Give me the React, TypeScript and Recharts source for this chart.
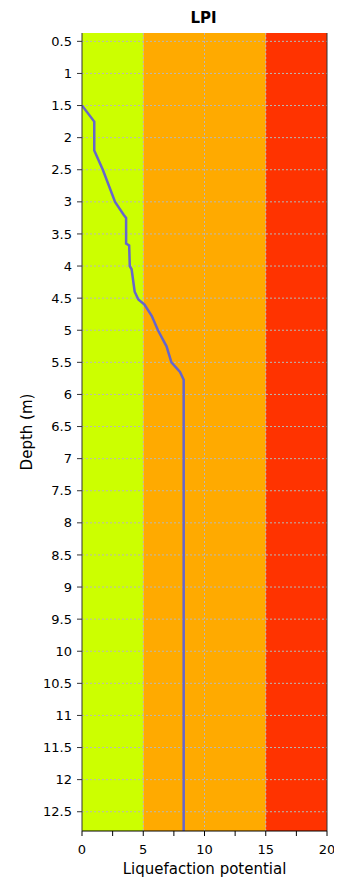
import React from "react";
import {
  LineChart,
  Line,
  XAxis,
  YAxis,
  ReferenceArea,
  ReferenceLine,
} from "recharts";

const depths = [1.5, 1.75, 2.2, 2.5, 3.0, 3.2, 3.25, 3.65, 3.68, 4.0, 4.05, 4.4, 4.52, 4.6, 4.78, 5.0, 5.25, 5.5, 5.65, 5.77, 12.8];
const lpiValues = [0, 1.0, 1.0, 1.7, 2.7, 3.4, 3.6, 3.6, 3.85, 3.9, 4.05, 4.3, 4.6, 5.1, 5.7, 6.2, 6.9, 7.3, 8.0, 8.3, 8.3];

const yTicks = [0.5, 1, 1.5, 2, 2.5, 3, 3.5, 4, 4.5, 5, 5.5, 6, 6.5, 7, 7.5, 8, 8.5, 9, 9.5, 10, 10.5, 11, 11.5, 12, 12.5];
const xTicks = [0, 2.5, 5, 7.5, 10, 12.5, 15, 17.5, 20];
const xGridLines = [5, 10, 15];

const bands = [
  { from: 0, to: 5, color: "#CCFF00" },
  { from: 5, to: 15, color: "#FFAA00" },
  { from: 15, to: 20, color: "#FF3300" },
];

const data = depths.map((d, i) => ({ depth: d, lpi: lpiValues[i] }));

const FONT = "'DejaVu Sans', Verdana, sans-serif";

const YLabel = (props: any) => {
  const vb = props.viewBox || {};
  const cy = vb.y + vb.height / 2;
  return (
    <text
      transform={`translate(${18.5}, ${cy}) rotate(-90)`}
      textAnchor="middle"
      dy="0.35em"
      fontFamily={FONT}
      fontSize={15}
      fill="#000"
    >
      Depth (m)
    </text>
  );
};

export default function App() {
  return (
    <div style={{ position: "relative", width: 334, height: 874 }}>
      <div
        style={{
          position: "absolute",
          left: 0,
          top: 0,
          width: 391,
          textAlign: "center",
          fontFamily: FONT,
          fontWeight: "bold",
          fontSize: 15,
          lineHeight: "20px",
          color: "#000",
        }}
      >
        LPI
      </div>
      <LineChart
        width={334}
        height={874}
        data={data}
        layout="vertical"
        margin={{ top: 25, right: 15, left: 0, bottom: 1 }}
      >
        <XAxis
          type="number"
          dataKey="lpi"
          domain={[0, 20]}
          ticks={xTicks}
          interval={0}
          allowDataOverflow
          tickFormatter={(v: number) => (v % 5 === 0 ? String(v) : "")}
          height={50}
          tickSize={5}
          tickMargin={9}
          stroke="#000"
          tick={{ fill: "#000", fontFamily: FONT, fontSize: 13 }}
          label={{
            value: "Liquefaction potential",
            position: "insideBottom",
            offset: 7,
            fill: "#000",
            fontFamily: FONT,
            fontSize: 15,
          }}
        />
        <YAxis
          type="number"
          dataKey="depth"
          domain={[0.37, 12.8]}
          ticks={yTicks}
          interval={0}
          allowDataOverflow
          width={74}
          tickSize={5}
          tickMargin={5}
          stroke="#333"
          tick={{ fill: "#000", fontFamily: FONT, fontSize: 13 }}
          label={<YLabel />}
        />
        {bands.map((b) => (
          <ReferenceArea
            key={b.from}
            x1={b.from}
            x2={b.to}
            fill={b.color}
            fillOpacity={1}
            stroke="none"
            ifOverflow="hidden"
          />
        ))}
        {yTicks.map((t) => (
          <ReferenceLine
            key={"y" + t}
            y={t}
            stroke="#b8b8b8"
            strokeDasharray="2 2"
            strokeWidth={1}
          />
        ))}
        {xGridLines.map((t) => (
          <ReferenceLine
            key={"x" + t}
            x={t}
            stroke="#b8b8b8"
            strokeDasharray="2 2"
            strokeWidth={1}
          />
        ))}
        <ReferenceLine x={20} stroke="#333" strokeWidth={1} />
        <Line
          type="linear"
          dataKey="lpi"
          stroke="#6666CC"
          strokeWidth={2.5}
          dot={false}
          activeDot={false}
          isAnimationActive={false}
        />
      </LineChart>
    </div>
  );
}
